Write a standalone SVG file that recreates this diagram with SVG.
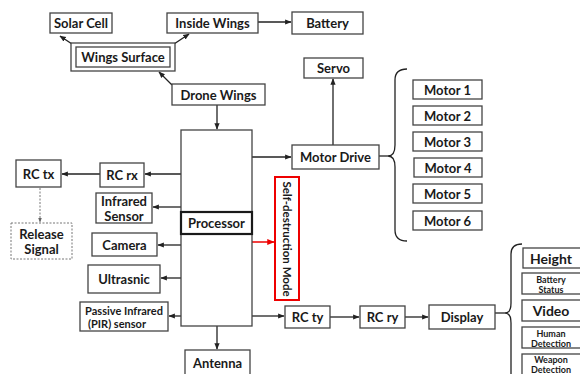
<svg xmlns="http://www.w3.org/2000/svg" width="580" height="374" viewBox="0 0 580 374">
<defs>
<marker id="ah" viewBox="0 0 10 10" refX="9" refY="5" markerWidth="5" markerHeight="5" orient="auto"><path d="M0,1 L10,5 L0,9 z" fill="#222"/></marker>
<marker id="ahr" viewBox="0 0 10 10" refX="9" refY="5" markerWidth="5" markerHeight="5" orient="auto"><path d="M0,1 L10,5 L0,9 z" fill="#e00"/></marker>
<marker id="ahg" viewBox="0 0 10 10" refX="9" refY="5" markerWidth="5" markerHeight="5" orient="auto"><path d="M0,1 L10,5 L0,9 z" fill="#666"/></marker>
<style>
.b{fill:#fff;stroke:#444;stroke-width:1.3}
.t{font-family:Lato,"Liberation Sans",sans-serif;font-weight:bold;font-size:13px;fill:#1a1a1a;text-anchor:middle;dominant-baseline:central}
.s{font-size:11px}
.xs{font-size:9px}
.c{fill:none;stroke:#222;stroke-width:1.3}
</style>
</defs>
<rect width="580" height="374" fill="#fff"/>
<g id="connectors">
<path class="c" d="M258,22 H291" marker-end="url(#ah)"/>
<path class="c" d="M72,44 L60,36" marker-end="url(#ah)"/>
<path class="c" d="M174,44 L189,34" marker-end="url(#ah)"/>
<path class="c" d="M172,85 L159,72" marker-end="url(#ah)"/>
<path class="c" d="M217,105 V129" marker-end="url(#ah)"/>
<path class="c" d="M252,157 H291" marker-end="url(#ah)"/>
<path class="c" d="M333,145 V79" marker-end="url(#ah)"/>
<path class="c" d="M181,174 H145" marker-end="url(#ah)"/>
<path class="c" d="M100,174 H62" marker-end="url(#ah)"/>
<path fill="none" stroke="#777" stroke-width="1" stroke-dasharray="2,1.5" d="M40,188 V222" marker-end="url(#ahg)"/>
<path class="c" d="M181,207 H153" marker-end="url(#ah)"/>
<path class="c" d="M181,245 H158" marker-end="url(#ah)"/>
<path class="c" d="M181,278 H161" marker-end="url(#ah)"/>
<path class="c" d="M181,316 H169" marker-end="url(#ah)"/>
<path fill="none" stroke="#e00" stroke-width="1.5" d="M252,242 H274" marker-end="url(#ahr)"/>
<path class="c" d="M252,316 H284" marker-end="url(#ah)"/>
<path class="c" d="M330,317 H359" marker-end="url(#ah)"/>
<path class="c" d="M405,317 H428" marker-end="url(#ah)"/>
<path class="c" d="M217,326 V349" marker-end="url(#ah)"/>
<path class="c" d="M379,156 H388"/>
<path class="c" d="M407,69 Q395,69 395,80 V145 Q395,156 388,156 Q395,156 395,167 V230 Q395,241 407,241"/>
<path class="c" d="M495,313 H505"/>
<path class="c" d="M522,244 Q511,244 511,254 V303 Q511,313 505,313 Q511,313 511,323 V380"/>
</g>
<g id="solar-cell"><rect class="b" x="50" y="13" width="62" height="20"/><text class="t" x="81" y="23">Solar Cell</text></g>
<g id="inside-wings"><rect class="b" x="167" y="13" width="91" height="20"/><text class="t" x="212.5" y="23">Inside Wings</text></g>
<g id="battery"><rect class="b" x="292" y="12" width="71" height="22"/><text class="t" x="327.5" y="23">Battery</text></g>
<g id="wings-surface"><rect class="b" x="71" y="43" width="104" height="28"/><rect class="b" x="76" y="47" width="94" height="20"/><text class="t" x="123" y="57">Wings Surface</text></g>
<g id="drone-wings"><rect class="b" x="172" y="84" width="93" height="21"/><text class="t" x="218.5" y="94.5">Drone Wings</text></g>
<g id="servo"><rect class="b" x="304" y="58" width="59" height="20"/><text class="t" x="333.5" y="68">Servo</text></g>
<g id="processor"><rect class="b" x="181" y="130" width="71" height="196"/><rect x="181" y="212" width="71" height="22" fill="#fff" stroke="#1a1a1a" stroke-width="2.2"/><text class="t" x="216.5" y="223">Processor</text></g>
<g id="motor-drive"><rect class="b" x="292" y="145" width="87" height="24"/><text class="t" x="335.5" y="157">Motor Drive</text></g>
<g id="motor-1"><rect class="b" x="413" y="80" width="69" height="19"/><text class="t" x="447.5" y="89.5">Motor 1</text></g>
<g id="motor-2"><rect class="b" x="413" y="106" width="69" height="19"/><text class="t" x="447.5" y="115.5">Motor 2</text></g>
<g id="motor-3"><rect class="b" x="413" y="132" width="69" height="19"/><text class="t" x="447.5" y="141.5">Motor 3</text></g>
<g id="motor-4"><rect class="b" x="414" y="158" width="68" height="19"/><text class="t" x="448" y="167.5">Motor 4</text></g>
<g id="motor-5"><rect class="b" x="413" y="184" width="69" height="19"/><text class="t" x="447.5" y="193.5">Motor 5</text></g>
<g id="motor-6"><rect class="b" x="413" y="211" width="69" height="19"/><text class="t" x="447.5" y="220.5">Motor 6</text></g>
<g id="rc-tx"><rect class="b" x="16" y="160" width="45" height="27"/><text class="t" x="38.5" y="173.5">RC tx</text></g>
<g id="rc-rx"><rect class="b" x="100" y="163" width="44" height="24"/><text class="t" x="122" y="175">RC rx</text></g>
<g id="release-signal"><rect x="11" y="223" width="61" height="36" fill="#fff" stroke="#777" stroke-width="1" stroke-dasharray="2,1.5"/><text class="t" x="41.5" y="234">Release</text><text class="t" x="41.5" y="249">Signal</text></g>
<g id="infrared-sensor"><rect class="b" x="96" y="193" width="56" height="30"/><text class="t" x="124" y="201">Infrared</text><text class="t" x="124" y="216">Sensor</text></g>
<g id="camera"><rect class="b" x="92" y="233" width="65" height="23"/><text class="t" x="124.5" y="244.5">Camera</text></g>
<g id="ultrasnic"><rect class="b" x="88" y="265" width="72" height="28"/><text class="t" x="124" y="279">Ultrasnic</text></g>
<g id="pir-sensor"><rect class="b" x="80" y="302" width="88" height="29"/><text class="t s" x="124" y="310">Passive Infrared</text><text class="t s" x="117" y="323">(PIR) sensor</text></g>
<g id="self-destruction-mode"><rect x="275" y="177" width="24" height="123" fill="#fff" stroke="#e00" stroke-width="2"/><text class="t" style="font-size:11.5px" transform="translate(287,239) rotate(90)" x="0" y="0">Self-destruction Mode</text></g>
<g id="antenna"><rect class="b" x="185" y="350" width="65" height="26"/><text class="t" x="217.5" y="363">Antenna</text></g>
<g id="rc-ty"><rect class="b" x="285" y="306" width="45" height="22"/><text class="t" x="307.5" y="317">RC ty</text></g>
<g id="rc-ry"><rect class="b" x="360" y="306" width="45" height="22"/><text class="t" x="382.5" y="317">RC ry</text></g>
<g id="display"><rect class="b" x="429" y="305" width="66" height="24"/><text class="t" x="462" y="317">Display</text></g>
<g id="height"><rect class="b" x="523" y="248" width="60" height="20"/><text class="t" x="551" y="258" style="font-size:14px">Height</text></g>
<g id="battery-status"><rect class="b" x="522" y="273" width="61" height="21"/><text class="t xs" x="551" y="279">Battery</text><text class="t xs" x="551" y="289">Status</text></g>
<g id="video"><rect class="b" x="522" y="300" width="61" height="21"/><text class="t" x="551" y="310.5" style="font-size:14px">Video</text></g>
<g id="human-detection"><rect class="b" x="522" y="327" width="61" height="21"/><text class="t xs" x="551" y="333">Human</text><text class="t xs" x="551" y="343">Detection</text></g>
<g id="weapon-detection"><rect class="b" x="522" y="354" width="61" height="24"/><text class="t xs" x="551" y="359">Weapon</text><text class="t xs" x="551" y="369">Detection</text></g>
</svg>
